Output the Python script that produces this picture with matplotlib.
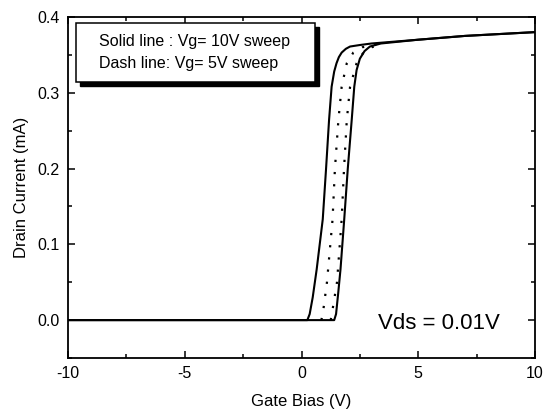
import matplotlib
matplotlib.use("Agg")
import matplotlib.pyplot as plt
from matplotlib.patches import Rectangle
from matplotlib.ticker import MultipleLocator

plt.rcParams['font.family'] = ['Liberation Sans', 'DejaVu Sans']

# Vg = 10 V sweep (solid), forward and reverse branches
vg_10_up = [-10, 0.25, 0.35, 0.48, 0.65, 0.91, 1.05, 1.18, 1.29, 1.40, 1.50, 1.60, 1.72,
            1.90, 2.08, 2.50, 3.0, 5.0, 7.0, 10.0]
id_10_up = [0, 0, 0.008, 0.030, 0.067, 0.133, 0.199, 0.264, 0.308, 0.328, 0.339, 0.347, 0.353,
            0.358, 0.361, 0.363, 0.365, 0.370, 0.375, 0.380]
vg_10_dn = [-10, 1.40, 1.48, 1.57, 1.67, 1.83, 1.98, 2.15, 2.26, 2.36, 2.50, 2.70, 2.93,
            3.40, 5.0, 7.0, 10.0]
id_10_dn = [0, 0, 0.008, 0.035, 0.067, 0.133, 0.199, 0.264, 0.308, 0.330, 0.345, 0.355, 0.361,
            0.365, 0.370, 0.375, 0.380]

# Vg = 5 V sweep (dotted)
vg_5_up = [0.85, 0.92, 1.09, 1.33, 1.43, 1.58, 1.72, 1.94, 2.22, 2.60, 3.20]
id_5_up = [0, 0.010, 0.050, 0.133, 0.199, 0.264, 0.308, 0.339, 0.353, 0.360, 0.364]
vg_5_dn = [1.25, 1.31, 1.52, 1.72, 1.82, 1.94, 2.08, 2.36, 2.65, 3.00, 3.50]
id_5_dn = [0, 0.010, 0.050, 0.133, 0.199, 0.264, 0.308, 0.339, 0.353, 0.360, 0.364]

x_ticks = [-10, -5, 0, 5, 10]
y_ticks = [0.0, 0.1, 0.2, 0.3, 0.4]

fig = plt.figure(figsize=(5.52, 4.2), dpi=100)
ax = fig.add_axes([0.1232, 0.1476, 0.846, 0.812])

ax.plot(vg_10_up, id_10_up, color='black', lw=1.5)
ax.plot(vg_10_dn, id_10_dn, color='black', lw=1.5)
ax.plot(vg_5_up, id_5_up, color='black', lw=1.6, linestyle=(0, (1, 4.5)))
ax.plot(vg_5_dn, id_5_dn, color='black', lw=1.6, linestyle=(0, (1, 4.5)))

ax.set_xlim(-10, 10)
ax.set_ylim(-0.05, 0.4)
ax.set_xticks(x_ticks)
ax.set_yticks(y_ticks)
ax.set_xticklabels([str(t) for t in x_ticks])
ax.set_yticklabels([f"{t:.1f}" for t in y_ticks])
ax.xaxis.set_minor_locator(MultipleLocator(2.5))
ax.yaxis.set_minor_locator(MultipleLocator(0.05))
ax.tick_params(which='both', direction='in', top=True, right=True, width=1.1,
               labelsize=11.5, pad=6)
ax.tick_params(which='major', length=5)
ax.tick_params(which='minor', length=3)
for sp in ax.spines.values():
    sp.set_linewidth(1.3)

ax.set_xlabel('Gate Bias (V)', fontsize=12, labelpad=9)
ax.set_ylabel('Drain Current (mA)', fontsize=12, labelpad=6)

# annotation box with a drop shadow
bx, by, bw, bh = 0.017, 0.809, 0.512, 0.173
ax.add_patch(Rectangle((bx + 0.009, by - 0.012), bw, bh, transform=ax.transAxes,
                       facecolor='black', edgecolor='black', zorder=5))
ax.add_patch(Rectangle((bx, by), bw, bh, transform=ax.transAxes,
                       facecolor='white', edgecolor='black', lw=1.1, zorder=6))
ax.text(0.066, 0.927, 'Solid line : Vg= 10V sweep', transform=ax.transAxes,
        fontsize=11.5, va='center', ha='left', zorder=7)
ax.text(0.066, 0.865, 'Dash line: Vg= 5V sweep', transform=ax.transAxes,
        fontsize=11.5, va='center', ha='left', zorder=7)

ax.text(3.28, -0.012, 'Vds = 0.01V', fontsize=16, ha='left', va='baseline')

fig.savefig('out.png', dpi=100)
